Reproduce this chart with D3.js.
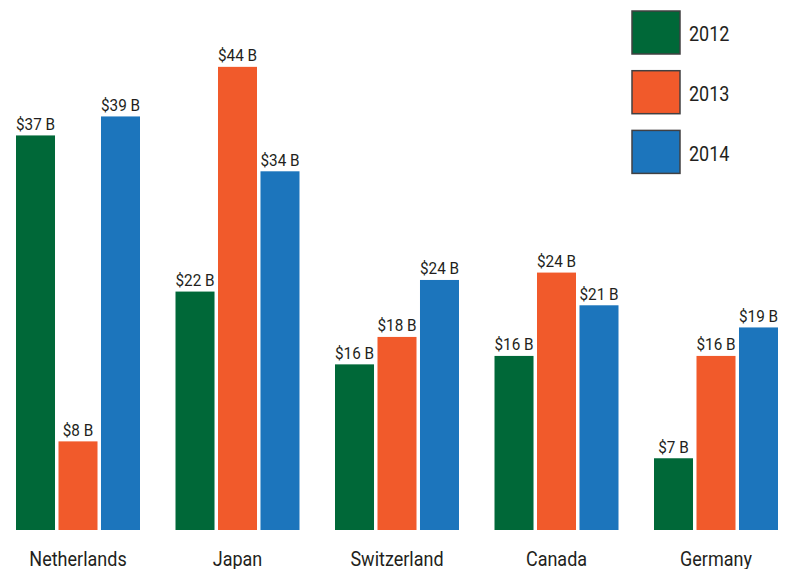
<!DOCTYPE html>
<html>
<head>
<meta charset="utf-8">
<script src="https://cdn.jsdelivr.net/npm/d3@7"></script>
<style>
  body { margin: 0; background: #fff; }
  text { font-family: Roboto, "DejaVu Sans Condensed", sans-serif; fill: #231f20; }
</style>
</head>
<body>
<script>
// data
var countries = ["Netherlands", "Japan", "Switzerland", "Canada", "Germany"];
var years = ["2012", "2013", "2014"];
var colors = ["#006838", "#f15a2b", "#1c75bc"];

// bar heights, billions of dollars
var values2012 = [37.4, 22.6, 15.7, 16.5, 6.8];
var values2013 = [8.4, 43.9, 18.3, 24.4, 16.5];
var values2014 = [39.2, 34.0, 23.7, 21.3, 19.2];

// labels as printed on the chart
var labels2012 = ["$37 B", "$22 B", "$16 B", "$16 B", "$7 B"];
var labels2013 = ["$8 B", "$44 B", "$18 B", "$24 B", "$16 B"];
var labels2014 = ["$39 B", "$34 B", "$24 B", "$21 B", "$19 B"];

var series = [values2012, values2013, values2014];
var seriesLabels = [labels2012, labels2013, labels2014];

var width = 790, height = 569;
var baseline = 530;
var squeeze = 0.9; // narrow the font a bit, the original type is condensed

var svg = d3.select("body").append("svg")
    .attr("width", width)
    .attr("height", height);

// scales
var x0 = d3.scaleBand()
    .domain(countries)
    .range([16, 778])
    .paddingInner(0.2226)
    .paddingOuter(0);

var x1 = d3.scaleBand()
    .domain(years)
    .range([0, x0.bandwidth()])
    .paddingInner(0.082)
    .paddingOuter(0);

var y = d3.scaleLinear()
    .domain([0, 50])
    .range([baseline, baseline - 50 * 10.55]);

var color = d3.scaleOrdinal().domain(years).range(colors);

// rows of data
var rows = countries.map(function(c, i) {
    return {
        country: c,
        bars: years.map(function(yr, j) {
            return { year: yr, value: series[j][i], label: seriesLabels[j][i] };
        })
    };
});

var groups = svg.selectAll("g.group")
    .data(rows)
    .enter().append("g")
    .attr("class", "group")
    .attr("transform", function(d) { return "translate(" + x0(d.country) + ",0)"; });

groups.selectAll("rect")
    .data(function(d) { return d.bars; })
    .enter().append("rect")
    .attr("x", function(d) { return x1(d.year); })
    .attr("y", function(d) { return y(d.value); })
    .attr("width", x1.bandwidth())
    .attr("height", function(d) { return baseline - y(d.value); })
    .attr("fill", function(d) { return color(d.year); });

// value labels
groups.selectAll("text.value")
    .data(function(d) { return d.bars; })
    .enter().append("text")
    .attr("class", "value")
    .attr("transform", function(d) {
        return "translate(" + (x1(d.year) + x1.bandwidth() / 2) + "," + (y(d.value) - 5.5) + ") scale(" + squeeze + ",1)";
    })
    .attr("text-anchor", "middle")
    .style("font-size", "17px")
    .text(function(d) { return d.label; });

// category axis
var xAxis = svg.append("g")
    .attr("transform", "translate(0," + baseline + ")")
    .call(d3.axisBottom(x0).tickSize(0));
xAxis.attr("font-family", null).attr("font-size", null);
xAxis.select(".domain").remove();
xAxis.selectAll("text")
    .attr("y", 36)
    .attr("dy", null)
    .attr("fill", "#231f20")
    .attr("transform", "scale(" + squeeze + ",1)")
    .style("font-size", "20px");

// legend
var legend = svg.selectAll("g.legend")
    .data(years)
    .enter().append("g")
    .attr("class", "legend")
    .attr("transform", function(d, i) { return "translate(632," + (11 + i * 59.7) + ")"; });

legend.append("rect")
    .attr("width", 48)
    .attr("height", 43)
    .attr("fill", function(d) { return color(d); })
    .attr("stroke", "#414042")
    .attr("stroke-width", 1.5);

legend.append("text")
    .attr("transform", "translate(57,30.3) scale(" + squeeze + ",1)")
    .style("font-size", "20px")
    .text(function(d) { return d; });
</script>
</body>
</html>
